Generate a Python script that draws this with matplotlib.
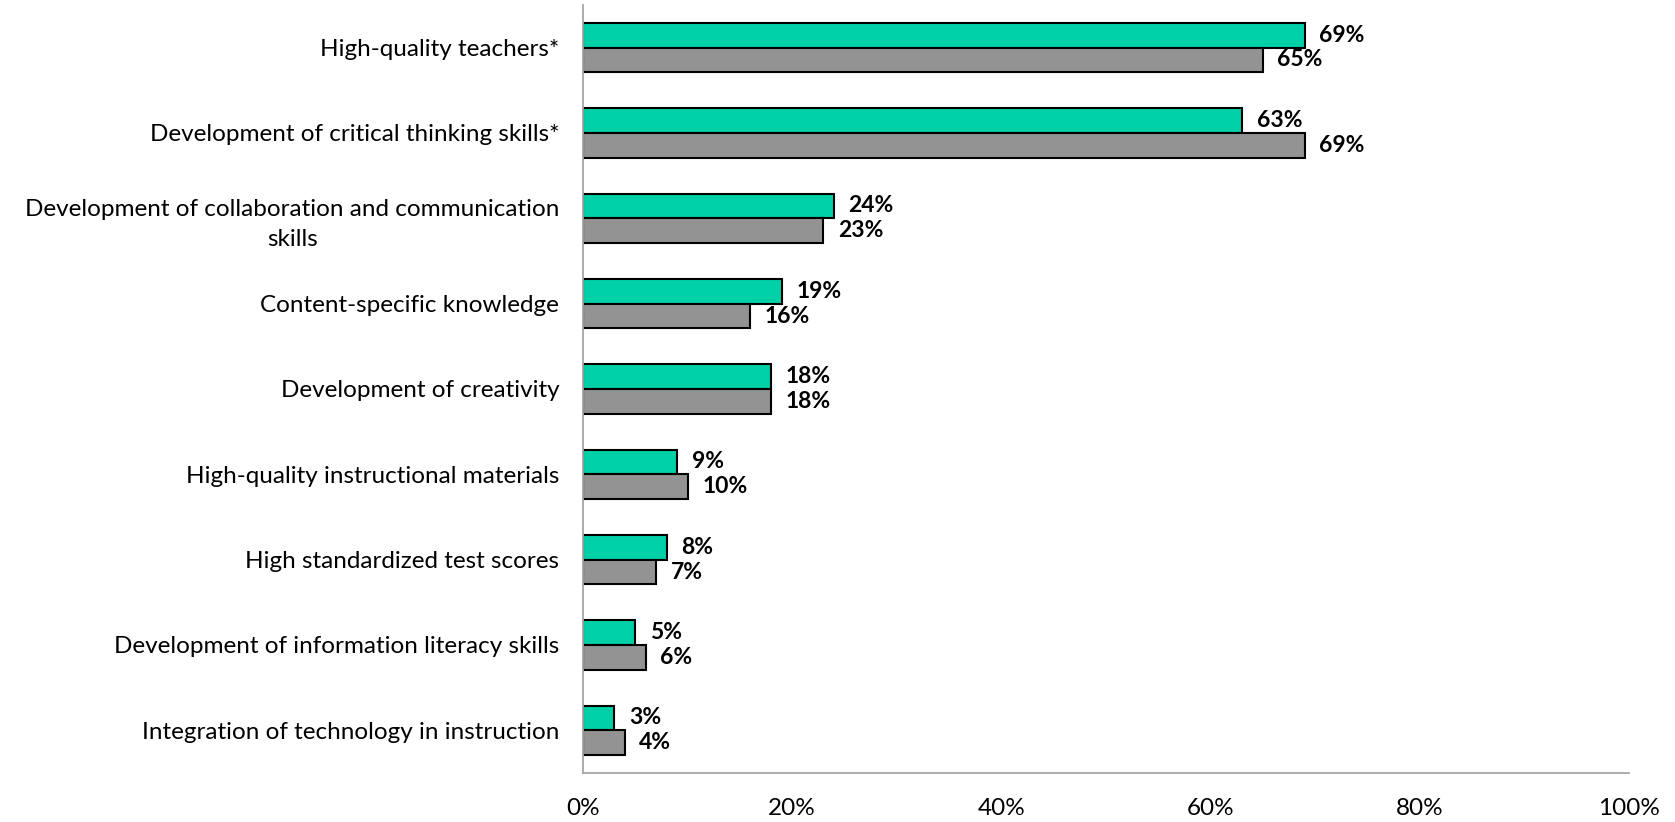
import numpy as np
import matplotlib.pyplot as plt

categories = [
    "High-quality teachers*",
    "Development of critical thinking skills*",
    "Development of collaboration and communication\nskills",
    "Content-specific knowledge",
    "Development of creativity",
    "High-quality instructional materials",
    "High standardized test scores",
    "Development of information literacy skills",
    "Integration of technology in instruction",
]
green_vals = [69, 63, 24, 19, 18, 9, 8, 5, 3]
gray_vals = [65, 69, 23, 16, 18, 10, 7, 6, 4]

plt.rcParams['font.family'] = ['Lato', 'DejaVu Sans']

fig = plt.figure(figsize=(16.75, 8.22), dpi=100)
ax = fig.add_axes([0.348, 0.0596, 0.6245, 0.9344])

y = np.arange(len(categories))
h = 0.29
ax.barh(y - h / 2, green_vals, height=h, color='#00D0A8', edgecolor='black', linewidth=1.5)
ax.barh(y + h / 2, gray_vals, height=h, color='#939393', edgecolor='black', linewidth=1.5)

for i in range(len(categories)):
    ax.text(green_vals[i] + 1.4, y[i] - h / 2, f"{green_vals[i]}%", va='center', ha='left',
            fontsize=16.5, fontweight='bold')
    ax.text(gray_vals[i] + 1.4, y[i] + h / 2, f"{gray_vals[i]}%", va='center', ha='left',
            fontsize=16.5, fontweight='bold')

ax.set_xlim(0, 100)
ax.set_ylim(len(categories) - 0.5, -0.5)
ax.set_xticks([0, 20, 40, 60, 80, 100])
ax.set_xticklabels([f"{t}%" for t in [0, 20, 40, 60, 80, 100]])
ax.set_yticks(y)
ax.set_yticklabels(categories, multialignment='center', linespacing=1.5)
ax.tick_params(axis='both', length=0, labelsize=17.5)
ax.tick_params(axis='y', pad=17)
ax.tick_params(axis='x', pad=18)

for s in ['top', 'right']:
    ax.spines[s].set_visible(False)
for s in ['left', 'bottom']:
    ax.spines[s].set_color('#A6A6A6')
    ax.spines[s].set_linewidth(1.3)

fig.savefig('out.png', dpi=100)
